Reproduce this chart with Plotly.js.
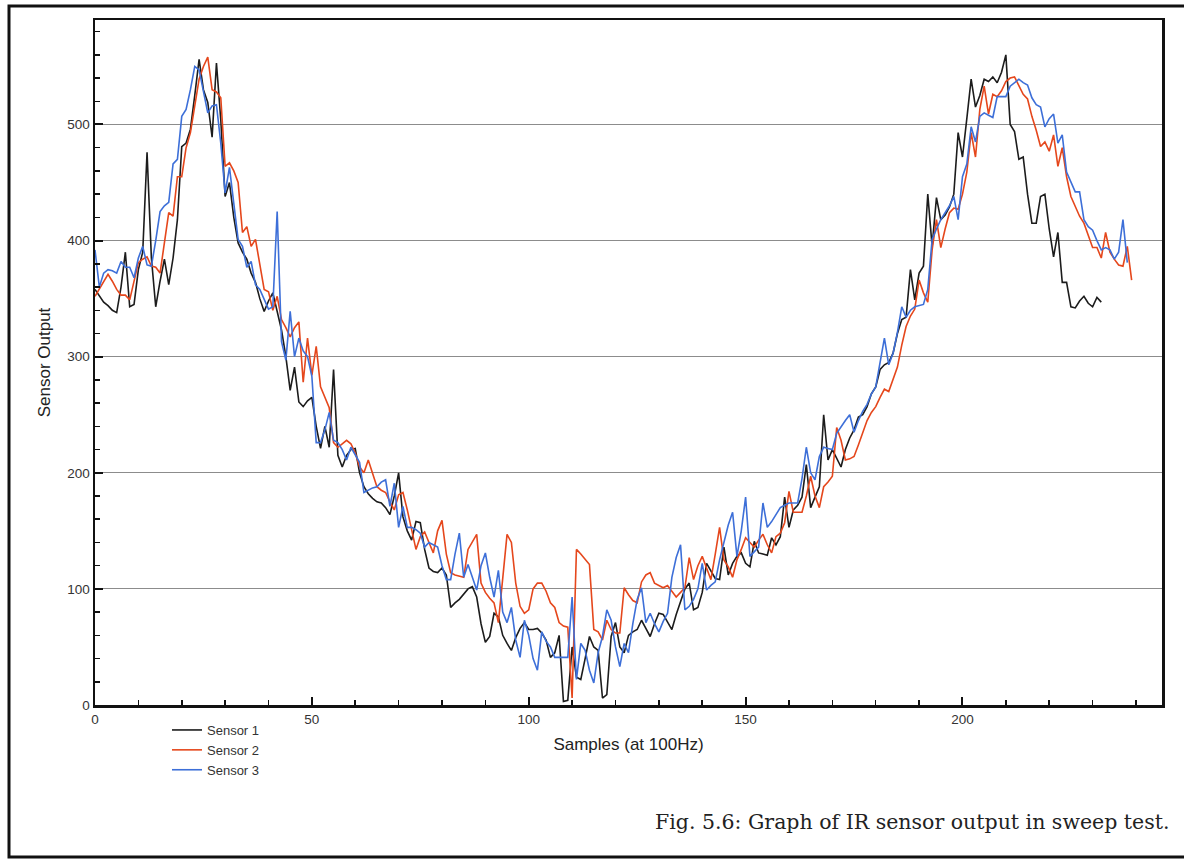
<!DOCTYPE html>
<html>
<head>
<meta charset="utf-8">
<script src="https://cdn.plot.ly/plotly-3.0.1.min.js"></script>
<style>
  html, body { margin: 0; padding: 0; background: #fff; }
  #chart { width: 1184px; height: 863px; }
</style>
</head>
<body>
<div id="chart"></div>
<script>
// ---- Data ----
const seriesNames = ["Sensor 1", "Sensor 2", "Sensor 3"];

const sensor1 = [
  358,352,347,344,340,338,360,390,343,345,375,390,476,385,343,365,384,362,385,418,
  481,484,496,525,556,530,519,489,553,504,438,450,420,398,390,384,372,364,350,339,
  348,355,340,323,300,271,291,261,257,262,265,240,221,240,222,289,215,205,215,220,
  221,200,188,182,178,175,174,170,164,180,200,162,150,142,158,157,134,118,115,114,
  118,112,84,88,91,96,100,102,93,70,54,59,79,76,60,53,47,58,66,71,
  65,65,66,62,56,41,45,60,3,4,50,24,22,40,59,50,47,6,9,59,
  71,50,45,60,63,65,73,66,59,70,79,78,72,65,78,89,100,105,82,84,
  97,122,115,109,108,136,112,122,128,131,122,119,141,131,130,129,144,138,145,179,
  153,168,172,179,207,170,179,188,250,211,220,212,205,220,230,237,248,250,257,268,
  274,289,293,295,303,320,332,334,375,349,372,378,440,395,437,418,422,429,440,493,
  472,505,539,515,525,539,537,541,536,545,560,500,494,470,472,440,415,415,438,440,
  410,386,407,364,364,343,342,348,352,346,343,351,347
];

const sensor2 = [
  352,358,364,371,365,358,353,353,349,365,381,384,386,378,377,372,400,424,421,455,
  455,480,493,515,539,550,558,530,528,523,464,467,460,450,407,412,395,401,379,358,
  356,340,352,332,325,317,325,330,278,316,284,309,274,265,256,226,222,225,228,225,
  217,205,200,211,200,188,185,183,175,168,181,183,168,150,134,145,149,140,131,150,
  159,130,114,112,111,110,134,140,147,105,97,92,88,71,110,147,140,105,85,79,
  82,100,105,105,98,88,84,71,68,67,6,134,130,125,121,65,63,56,73,65,
  62,62,101,95,90,88,106,112,114,105,103,101,103,98,93,97,101,127,108,120,
  128,118,108,130,153,125,119,110,125,134,144,140,136,142,147,138,131,145,148,157,
  184,166,166,166,180,197,180,170,188,192,197,239,228,211,212,214,224,234,245,252,
  257,265,272,270,280,291,310,326,335,341,366,355,347,392,418,394,410,424,428,427,
  440,459,493,472,513,533,509,526,524,529,537,540,541,533,526,522,507,495,481,485,
  477,491,464,480,455,438,430,421,415,405,394,394,385,407,390,384,379,378,395,366
];

const sensor3 = [
  392,360,372,375,374,372,382,377,377,368,385,395,379,378,400,425,430,433,466,470,
  507,513,530,550,547,530,510,516,517,484,441,463,430,401,395,377,382,362,358,350,
  341,343,425,313,297,339,300,316,305,300,283,226,226,237,252,228,226,220,211,222,
  215,209,183,185,187,188,192,194,171,191,153,171,153,153,151,148,136,140,138,136,
  120,108,108,130,148,110,121,110,99,120,131,110,93,116,80,71,84,56,41,73,
  60,40,30,63,55,50,41,41,41,41,93,22,53,47,30,19,45,59,82,73,
  50,33,53,45,70,91,101,71,79,70,63,72,79,110,127,138,82,85,91,100,
  122,99,103,106,125,140,155,166,128,150,179,128,132,136,174,153,158,164,170,172,
  174,174,174,195,222,200,194,214,222,221,220,234,240,245,250,235,245,253,259,268,
  274,297,316,293,303,321,343,334,340,343,344,345,358,401,410,418,424,430,438,418,
  455,466,498,485,507,510,508,506,524,524,524,533,536,539,536,534,523,517,515,498,
  505,509,484,491,459,450,442,442,418,412,409,400,392,394,392,384,390,418,381
];

const seriesValues = [sensor1, sensor2, sensor3];
const seriesColors = ["#1c1c1c", "#e5471c", "#3d6fd8"];

const xTitle = "Samples (at 100Hz)";
const yTitle = "Sensor Output";
const caption = "Fig. 5.6: Graph of IR sensor output in sweep test.";

// ---- Build traces ----
const traces = seriesValues.map((vals, i) => ({
  type: "scatter",
  mode: "lines",
  name: seriesNames[i],
  x: vals.map((_, k) => k),
  y: vals,
  line: { color: seriesColors[i], width: 1.6 }
}));

const W = 1184, H = 863;
const mL = 95, mR = 22, mT = 20, mB = 158;
const pw = W - mL - mR, ph = H - mT - mB;
const px = v => (v - mL) / pw;
const py = v => (H - mB - v) / ph;

const sansFont = "Liberation Sans, Arial, Helvetica, sans-serif";

const layout = {
  width: W,
  height: H,
  margin: { l: mL, r: mR, t: mT, b: mB, pad: 0 },
  paper_bgcolor: "#ffffff",
  plot_bgcolor: "#ffffff",
  font: { family: sansFont, color: "#333333", size: 13 },
  showlegend: true,
  legend: {
    x: px(167), xanchor: "left",
    y: py(715), yanchor: "top",
    bgcolor: "rgba(0,0,0,0)",
    font: { family: sansFont, size: 13, color: "#333333" },
    tracegroupgap: 0
  },
  xaxis: {
    range: [0, 246],
    showline: true, linecolor: "#111111", linewidth: 2.5, mirror: true,
    ticks: "inside", ticklen: 8, tickwidth: 2, tickcolor: "#111111",
    dtick: 50, tick0: 0,
    minor: { ticks: "inside", ticklen: 5, tickwidth: 1.5, tickcolor: "#111111", dtick: 10, showgrid: false },
    showgrid: false, zeroline: false,
    tickfont: { family: sansFont, size: 13.5, color: "#333333" },
    title: { text: xTitle, font: { family: sansFont, size: 17, color: "#222222" }, standoff: 13 }
  },
  yaxis: {
    range: [0, 590],
    showline: true, linecolor: "#111111", linewidth: 2.5, mirror: true,
    ticks: "inside", ticklen: 8, tickwidth: 2, tickcolor: "#111111",
    dtick: 100, tick0: 0,
    minor: { ticks: "inside", ticklen: 5, tickwidth: 1.5, tickcolor: "#111111", dtick: 20, showgrid: false },
    showgrid: true, gridcolor: "#8c8c8c", gridwidth: 1,
    zeroline: false,
    tickfont: { family: sansFont, size: 13.5, color: "#333333" },
    title: { text: yTitle, font: { family: sansFont, size: 17, color: "#222222" }, standoff: 13 }
  },
  shapes: [
    {
      type: "rect", xref: "paper", yref: "paper",
      x0: px(9), x1: px(1186), y0: py(857), y1: py(6),
      line: { color: "#111111", width: 3 }, fillcolor: "rgba(0,0,0,0)", layer: "below"
    }
  ],
  annotations: [
    {
      text: caption, xref: "paper", yref: "paper",
      x: px(1171), xanchor: "right", y: py(822), yanchor: "middle",
      showarrow: false,
      font: { family: "DejaVu Serif, Liberation Serif, serif", size: 20.5, color: "#222222" }
    }
  ]
};

Plotly.newPlot("chart", traces, layout, { displayModeBar: false, staticPlot: true });
</script>
</body>
</html>
